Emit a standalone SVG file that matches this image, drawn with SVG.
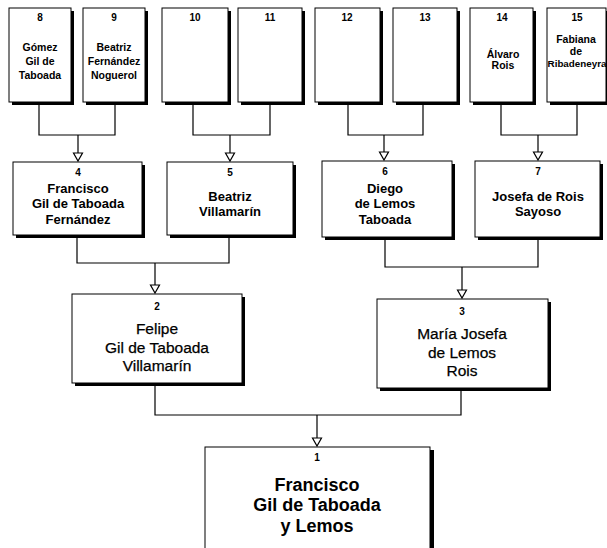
<svg xmlns="http://www.w3.org/2000/svg" width="607" height="548" viewBox="0 0 607 548">
<defs>
<style>
.sh{fill:#000}
.bx{fill:#fff;stroke:#000;stroke-width:1}
.ln{fill:none;stroke:#000;stroke-width:1.2}
text{font-family:"Liberation Sans",Arial,Helvetica,sans-serif;text-anchor:middle;fill:#000}
.n{font-size:10px;font-weight:bold}
.s{font-size:10.5px;font-weight:bold}
.m{font-size:13px;font-weight:bold}
.l{font-size:15.5px;stroke:#000;stroke-width:0.25}
.x{font-size:18px;font-weight:bold}
</style>
<g id="arrow"><path d="M-4.5,-8 H4.5 L0,0 Z" fill="#fff" stroke="#000" stroke-width="1.2"/></g>
</defs>
<rect width="607" height="548" fill="#fff"/>
<g id="connectors">
<path class="ln" d="M39,105 V135 H115 V105 M78,135 V153"/>
<path class="ln" d="M193,105 V135 H270 V105 M230,135 V153"/>
<path class="ln" d="M348,105 V135 H423 V105 M384,135 V152"/>
<path class="ln" d="M501,105 V135 H577 V105 M538,135 V152"/>
<path class="ln" d="M77,238 V263 H229 V238 M155,263 V285"/>
<path class="ln" d="M385,240 V267 H538 V240 M462,267 V290"/>
<path class="ln" d="M155,386 V415 H461 V391 M317,415 V438"/>
<use href="#arrow" x="78" y="161"/>
<use href="#arrow" x="230" y="161"/>
<use href="#arrow" x="384" y="160"/>
<use href="#arrow" x="538" y="160"/>
<use href="#arrow" x="155" y="293"/>
<use href="#arrow" x="462" y="298"/>
<use href="#arrow" x="317" y="446"/>
</g>
<g id="n8"><rect class="sh" x="12" y="11" width="62" height="94"/><rect class="bx" x="9" y="8" width="62" height="94"/>
<text class="n" x="40" y="21">8</text><text class="s" x="40" y="51">Gómez</text><text class="s" x="40" y="65">Gil de</text><text class="s" x="40" y="79">Taboada</text></g>
<g id="n9"><rect class="sh" x="86" y="11" width="62" height="94"/><rect class="bx" x="83" y="8" width="62" height="94"/>
<text class="n" x="114" y="21">9</text><text class="s" x="114" y="51">Beatriz</text><text class="s" x="114" y="65">Fernández</text><text class="s" x="114" y="79">Noguerol</text></g>
<g id="n10"><rect class="sh" x="165" y="11" width="66" height="94"/><rect class="bx" x="162" y="8" width="66" height="94"/>
<text class="n" x="195" y="21">10</text></g>
<g id="n11"><rect class="sh" x="241" y="11" width="64" height="94"/><rect class="bx" x="238" y="8" width="64" height="94"/>
<text class="n" x="270" y="21">11</text></g>
<g id="n12"><rect class="sh" x="318" y="11" width="65" height="94"/><rect class="bx" x="315" y="8" width="65" height="94"/>
<text class="n" x="347" y="21">12</text></g>
<g id="n13"><rect class="sh" x="396" y="11" width="64" height="94"/><rect class="bx" x="393" y="8" width="64" height="94"/>
<text class="n" x="425" y="21">13</text></g>
<g id="n14"><rect class="sh" x="473" y="11" width="63" height="94"/><rect class="bx" x="470" y="8" width="63" height="94"/>
<text class="n" x="502" y="21">14</text><text class="s" x="503" y="58">Álvaro</text><text class="s" x="503" y="69">Rois</text></g>
<g id="n15"><rect class="sh" x="550" y="11" width="60" height="94"/><rect class="bx" x="547" y="8" width="59" height="94"/>
<text class="n" x="577" y="21">15</text><text class="s" x="576" y="43">Fabiana</text><text class="s" x="576" y="55">de</text><text class="s" x="577" y="67" style="font-size:9.8px">Ribadeneyra</text></g>
<g id="n4"><rect class="sh" x="16" y="165" width="129" height="73"/><rect class="bx" x="13" y="162" width="129" height="73"/>
<text class="n" x="78" y="176">4</text><text class="m" x="78" y="193">Francisco</text><text class="m" x="78" y="208">Gil de Taboada</text><text class="m" x="78" y="224">Fernández</text></g>
<g id="n5"><rect class="sh" x="170" y="165" width="126" height="73"/><rect class="bx" x="167" y="162" width="126" height="73"/>
<text class="n" x="230" y="176">5</text><text class="m" x="230" y="201">Beatriz</text><text class="m" x="230" y="216">Villamarín</text></g>
<g id="n6"><rect class="sh" x="325" y="164" width="130" height="76"/><rect class="bx" x="322" y="161" width="130" height="76"/>
<text class="n" x="385" y="175">6</text><text class="m" x="385" y="193">Diego</text><text class="m" x="385" y="208">de Lemos</text><text class="m" x="385" y="224">Taboada</text></g>
<g id="n7"><rect class="sh" x="478" y="164" width="125" height="76"/><rect class="bx" x="475" y="161" width="125" height="76"/>
<text class="n" x="538" y="175">7</text><text class="m" x="538" y="201">Josefa de Rois</text><text class="m" x="538" y="216">Sayoso</text></g>
<g id="n2"><rect class="sh" x="75" y="297" width="170" height="89"/><rect class="bx" x="72" y="294" width="170" height="89"/>
<text class="n" x="157" y="310">2</text><text class="l" x="157" y="334">Felipe</text><text class="l" x="157" y="353">Gil de Taboada</text><text class="l" x="157" y="371">Villamarín</text></g>
<g id="n3"><rect class="sh" x="380" y="302" width="171" height="89"/><rect class="bx" x="377" y="299" width="171" height="89"/>
<text class="n" x="462" y="315">3</text><text class="l" x="462" y="339">María Josefa</text><text class="l" x="462" y="358">de Lemos</text><text class="l" x="462" y="376">Rois</text></g>
<g id="n1"><rect class="sh" x="208" y="450" width="226" height="110"/><rect class="bx" x="205" y="447" width="225" height="110"/>
<text class="n" x="317" y="461">1</text><text class="x" x="317" y="491">Francisco</text><text class="x" x="317" y="511">Gil de Taboada</text><text class="x" x="317" y="532">y Lemos</text></g>
</svg>
